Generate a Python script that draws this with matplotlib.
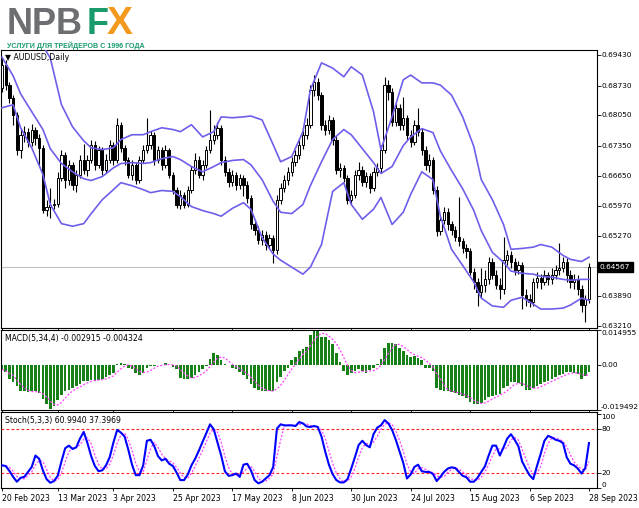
import numpy as np
import pandas as pd
import matplotlib
matplotlib.use("Agg")
import matplotlib.pyplot as plt

plt.rcParams['font.family'] = ['DejaVu Sans']

# AUDUSD daily, values
dates = ["20 Feb 2023", "13 Mar 2023", "3 Apr 2023", "25 Apr 2023", "17 May 2023",
         "8 Jun 2023", "30 Jun 2023", "24 Jul 2023", "15 Aug 2023", "6 Sep 2023", "28 Sep 2023"]
date_pos = [0, 15, 30, 46, 62, 78, 94, 110, 126, 142, 158]

opens = [
    0.6867, 0.6920, 0.6874, 0.6844, 0.6805,
    0.6725, 0.6760, 0.6767, 0.6744, 0.6771, 0.6753, 0.6730, 0.6588,
    0.6595, 0.6599, 0.6602, 0.6661, 0.6714, 0.6657, 0.6691, 0.6645, 0.6668,
    0.6702, 0.6680, 0.6702, 0.6737, 0.6691, 0.6725, 0.6680, 0.6702, 0.6737,
    0.6702, 0.6783, 0.6730, 0.6702, 0.6668, 0.6691, 0.6657, 0.6702,
    0.6725, 0.6737, 0.6760, 0.6702, 0.6725, 0.6691, 0.6725, 0.6668, 0.6634,
    0.6599, 0.6622, 0.6599, 0.6634, 0.6680, 0.6702, 0.6668, 0.6691, 0.6725,
    0.6748, 0.6760, 0.6776, 0.6702, 0.6675, 0.6652, 0.6668, 0.6645,
    0.6661, 0.6645, 0.6615, 0.6554, 0.6542, 0.6519, 0.6531, 0.6508, 0.6524,
    0.6496, 0.6611, 0.6638, 0.6657, 0.6675, 0.6698, 0.6714, 0.6737, 0.6760,
    0.6783, 0.6863, 0.6881, 0.6851, 0.6783, 0.6771, 0.6794, 0.6748,
    0.6680, 0.6684, 0.6661, 0.6611, 0.6622, 0.6668, 0.6680, 0.6652, 0.6666,
    0.6638, 0.6675, 0.6684, 0.6725, 0.6874, 0.6858, 0.6789, 0.6822, 0.6783,
    0.6799, 0.6760, 0.6744, 0.6783, 0.6767, 0.6725, 0.6691, 0.6702,
    0.6634, 0.6538, 0.6565, 0.6583, 0.6554, 0.6542, 0.6526, 0.6515, 0.6501,
    0.6492, 0.6446, 0.6423, 0.6400, 0.6416, 0.6428, 0.6469, 0.6439, 0.6416,
    0.6405, 0.6473, 0.6485, 0.6469, 0.6450, 0.6460, 0.6393, 0.6382,
    0.6377, 0.6421, 0.6432, 0.6423, 0.6437, 0.6428, 0.6439, 0.6450, 0.6455,
    0.6469, 0.6439, 0.6423, 0.6428, 0.6405, 0.6370, 0.6382]

closes = [
    0.6920, 0.6874, 0.6844, 0.6805, 0.6725,
    0.6760, 0.6767, 0.6744, 0.6771, 0.6753, 0.6730, 0.6588, 0.6595,
    0.6599, 0.6602, 0.6661, 0.6714, 0.6657, 0.6691, 0.6645, 0.6668, 0.6702,
    0.6680, 0.6702, 0.6737, 0.6691, 0.6725, 0.6680, 0.6702, 0.6737, 0.6702,
    0.6783, 0.6730, 0.6702, 0.6668, 0.6691, 0.6657, 0.6702, 0.6725,
    0.6737, 0.6760, 0.6702, 0.6725, 0.6691, 0.6725, 0.6668, 0.6634, 0.6599,
    0.6622, 0.6599, 0.6634, 0.6680, 0.6702, 0.6668, 0.6691, 0.6725, 0.6748,
    0.6760, 0.6776, 0.6702, 0.6675, 0.6652, 0.6668, 0.6645, 0.6661,
    0.6645, 0.6615, 0.6554, 0.6542, 0.6519, 0.6531, 0.6508, 0.6524, 0.6496,
    0.6611, 0.6638, 0.6657, 0.6675, 0.6698, 0.6714, 0.6737, 0.6760, 0.6783,
    0.6863, 0.6881, 0.6851, 0.6783, 0.6771, 0.6794, 0.6748, 0.6680,
    0.6684, 0.6661, 0.6611, 0.6622, 0.6668, 0.6680, 0.6652, 0.6666, 0.6638,
    0.6675, 0.6684, 0.6725, 0.6874, 0.6858, 0.6789, 0.6822, 0.6783, 0.6799,
    0.6760, 0.6744, 0.6783, 0.6767, 0.6725, 0.6691, 0.6702, 0.6634,
    0.6538, 0.6565, 0.6583, 0.6554, 0.6542, 0.6526, 0.6515, 0.6501, 0.6492,
    0.6446, 0.6423, 0.6400, 0.6416, 0.6428, 0.6469, 0.6439, 0.6416, 0.6405,
    0.6473, 0.6485, 0.6469, 0.6450, 0.6460, 0.6393, 0.6382, 0.6377,
    0.6421, 0.6432, 0.6423, 0.6437, 0.6428, 0.6439, 0.6450, 0.6455, 0.6469,
    0.6439, 0.6423, 0.6428, 0.6405, 0.6370, 0.6382, 0.64567]

highs = [
    0.6938, 0.6931, 0.6881, 0.6851, 0.6812,
    0.6776, 0.6780, 0.6776, 0.6785, 0.6778, 0.6762, 0.6737, 0.6611,
    0.6638, 0.6613, 0.6675, 0.6725, 0.6721, 0.6702, 0.6698, 0.6680, 0.6714,
    0.6739, 0.6714, 0.6748, 0.6746, 0.6735, 0.6732, 0.6716, 0.6748, 0.6744,
    0.6799, 0.6789, 0.6737, 0.6709, 0.6702, 0.6698, 0.6712, 0.6737,
    0.6799, 0.6769, 0.6767, 0.6735, 0.6732, 0.6737, 0.6730, 0.6675, 0.6641,
    0.6634, 0.6629, 0.6643, 0.6689, 0.6718, 0.6712, 0.6702, 0.6735, 0.6817,
    0.6783, 0.6789, 0.6783, 0.6712, 0.6684, 0.6680, 0.6675, 0.6670,
    0.6668, 0.6654, 0.6622, 0.6565, 0.6551, 0.6542, 0.6538, 0.6533, 0.6531,
    0.6622, 0.6650, 0.6668, 0.6686, 0.6709, 0.6725, 0.6748, 0.6771, 0.6799,
    0.6874, 0.6897, 0.6890, 0.6858, 0.6794, 0.6805, 0.6801, 0.6757,
    0.6696, 0.6691, 0.6668, 0.6634, 0.6680, 0.6698, 0.6689, 0.6675, 0.6673,
    0.6686, 0.6696, 0.6737, 0.6892, 0.6886, 0.6867, 0.6831, 0.6831, 0.6847,
    0.6805, 0.6771, 0.6794, 0.6822, 0.6776, 0.6735, 0.6716, 0.6709,
    0.6643, 0.6574, 0.6595, 0.6592, 0.6563, 0.6551, 0.6618, 0.6524, 0.6510,
    0.6501, 0.6455, 0.6432, 0.6455, 0.6450, 0.6480, 0.6478, 0.6450, 0.6432,
    0.6526, 0.6496, 0.6494, 0.6478, 0.6471, 0.6469, 0.6405, 0.6395,
    0.6432, 0.6446, 0.6441, 0.6450, 0.6446, 0.6455, 0.6462, 0.6512, 0.6480,
    0.6478, 0.6450, 0.6441, 0.6437, 0.6414, 0.6393, 0.6466]

lows = [
    0.6858, 0.6863, 0.6833, 0.6783, 0.6714,
    0.6707, 0.6744, 0.6732, 0.6735, 0.6737, 0.6691, 0.6581, 0.6574,
    0.6570, 0.6590, 0.6595, 0.6654, 0.6638, 0.6645, 0.6634, 0.6629, 0.6661,
    0.6670, 0.6666, 0.6696, 0.6680, 0.6684, 0.6668, 0.6673, 0.6696, 0.6691,
    0.6696, 0.6721, 0.6691, 0.6661, 0.6657, 0.6647, 0.6650, 0.6696,
    0.6718, 0.6728, 0.6691, 0.6696, 0.6680, 0.6684, 0.6661, 0.6625, 0.6592,
    0.6590, 0.6592, 0.6595, 0.6627, 0.6670, 0.6661, 0.6657, 0.6684, 0.6718,
    0.6739, 0.6750, 0.6691, 0.6666, 0.6641, 0.6643, 0.6634, 0.6636,
    0.6620, 0.6604, 0.6544, 0.6531, 0.6510, 0.6508, 0.6496, 0.6499, 0.6466,
    0.6487, 0.6602, 0.6629, 0.6645, 0.6666, 0.6689, 0.6705, 0.6728, 0.6750,
    0.6776, 0.6849, 0.6840, 0.6771, 0.6760, 0.6762, 0.6737, 0.6670,
    0.6664, 0.6652, 0.6602, 0.6599, 0.6615, 0.6657, 0.6643, 0.6641, 0.6627,
    0.6631, 0.6666, 0.6675, 0.6718, 0.6840, 0.6780, 0.6780, 0.6771, 0.6771,
    0.6748, 0.6732, 0.6737, 0.6757, 0.6714, 0.6680, 0.6675, 0.6625,
    0.6528, 0.6531, 0.6556, 0.6542, 0.6531, 0.6515, 0.6505, 0.6489, 0.6478,
    0.6437, 0.6405, 0.6366, 0.6386, 0.6400, 0.6418, 0.6428, 0.6405, 0.6382,
    0.6395, 0.6462, 0.6455, 0.6439, 0.6441, 0.6359, 0.6368, 0.6364,
    0.6368, 0.6409, 0.6405, 0.6414, 0.6416, 0.6418, 0.6428, 0.6437, 0.6446,
    0.6423, 0.6409, 0.6405, 0.6391, 0.6352, 0.6331, 0.6373]

# Bollinger bands, read at every few bars
bb_pos = [0, 3, 5, 8, 11, 13, 16, 19, 22, 24, 27, 30, 32, 35, 38, 40, 43, 46, 48, 51,
          54, 57, 59, 62, 65, 67, 70, 73, 75, 78, 81, 83, 86, 89, 92, 94, 97, 100, 102, 105,
          108, 110, 113, 116, 118, 121, 124, 127, 129, 132, 135, 137, 140, 143, 145, 148, 151, 153, 156, 158]
bb_upper = [0.7000, 0.6989, 0.6982, 0.6977, 0.6964, 0.6936, 0.6829, 0.6778, 0.6746, 0.6730,
            0.6726, 0.6730, 0.6749, 0.6760, 0.6760, 0.6767, 0.6776, 0.6772, 0.6767, 0.6783,
            0.6755, 0.6767, 0.6801, 0.6799, 0.6801, 0.6803, 0.6794, 0.6737, 0.6698, 0.6710,
            0.6767, 0.6863, 0.6925, 0.6913, 0.6893, 0.6916, 0.6897, 0.6813, 0.6726, 0.6801,
            0.6886, 0.6897, 0.6879, 0.6879, 0.6874, 0.6851, 0.6801, 0.6733, 0.6657, 0.6611,
            0.6554, 0.6497, 0.6499, 0.6502, 0.6508, 0.6502, 0.6483, 0.6474, 0.6469, 0.6479]
bb_mid = [0.6938, 0.6895, 0.6854, 0.6813, 0.6772, 0.6728, 0.6694, 0.6675, 0.6659, 0.6655,
          0.6664, 0.6684, 0.6694, 0.6696, 0.6694, 0.6696, 0.6705, 0.6710, 0.6703, 0.6687,
          0.6675, 0.6687, 0.6696, 0.6701, 0.6703, 0.6691, 0.6657, 0.6607, 0.6582, 0.6579,
          0.6600, 0.6643, 0.6698, 0.6749, 0.6772, 0.6760, 0.6728, 0.6696, 0.6671, 0.6687,
          0.6735, 0.6755, 0.6774, 0.6765, 0.6723, 0.6678, 0.6636, 0.6586, 0.6540, 0.6490,
          0.6467, 0.6447, 0.6442, 0.6440, 0.6435, 0.6433, 0.6428, 0.6426, 0.6428, 0.6428]
bb_lower = [0.6822, 0.6829, 0.6776, 0.6730, 0.6669, 0.6600, 0.6556, 0.6550, 0.6556, 0.6579,
            0.6611, 0.6634, 0.6650, 0.6643, 0.6634, 0.6627, 0.6632, 0.6630, 0.6618, 0.6595,
            0.6586, 0.6579, 0.6573, 0.6591, 0.6604, 0.6589, 0.6524, 0.6486, 0.6472, 0.6456,
            0.6440, 0.6456, 0.6508, 0.6630, 0.6650, 0.6600, 0.6566, 0.6589, 0.6616, 0.6554,
            0.6582, 0.6623, 0.6675, 0.6657, 0.6573, 0.6497, 0.6460, 0.6422, 0.6385, 0.6367,
            0.6364, 0.6380, 0.6387, 0.6371, 0.6360, 0.6360, 0.6362, 0.6369, 0.6385, 0.6380]

macd_main = [
    -0.0020, -0.0033, -0.0060, -0.0075, -0.0091,
    -0.0115, -0.0115, -0.0118, -0.0115, -0.0115, -0.0123, -0.0146, -0.0170,
    -0.0190, -0.0178, -0.0154, -0.0130, -0.0115, -0.0107, -0.0099, -0.0091, -0.0083,
    -0.0071, -0.0068, -0.0064, -0.0068, -0.0064, -0.0060, -0.0052, -0.0044, -0.0036,
    0.0003, 0.0006, 0.0003, -0.0013, -0.0020, -0.0036, -0.0044, -0.0036,
    -0.0013, -0.0005, -0.0005, -0.0002, -0.0001, 0.0008, -0.0001, -0.0008, -0.0020,
    -0.0055, -0.0060, -0.0060, -0.0055, -0.0044, -0.0033, -0.0020, -0.0005, 0.0024,
    0.0050, 0.0042, 0.0019, 0.0003, -0.0001, -0.0013, -0.0020, -0.0033,
    -0.0044, -0.0060, -0.0083, -0.0099, -0.0107, -0.0112, -0.0115, -0.0115, -0.0112,
    -0.0075, -0.0052, -0.0028, -0.0013, 0.0019, 0.0035, 0.0058, 0.0066, 0.0077,
    0.0129, 0.0145, 0.0148, 0.0121, 0.0121, 0.0105, 0.0090, 0.0050,
    0.0011, -0.0028, -0.0044, -0.0036, -0.0028, -0.0020, -0.0028, -0.0036, -0.0024,
    -0.0013, 0.0003, 0.0024, 0.0074, 0.0093, 0.0093, 0.0090, 0.0074, 0.0058,
    0.0042, 0.0035, 0.0039, 0.0030, 0.0019, -0.0013, -0.0013, -0.0028,
    -0.0099, -0.0107, -0.0112, -0.0115, -0.0118, -0.0123, -0.0130, -0.0134, -0.0143,
    -0.0162, -0.0170, -0.0170, -0.0165, -0.0154, -0.0138, -0.0134, -0.0130, -0.0127,
    -0.0099, -0.0091, -0.0075, -0.0075, -0.0080, -0.0091, -0.0107, -0.0107,
    -0.0099, -0.0091, -0.0083, -0.0075, -0.0068, -0.0060, -0.0052, -0.0044, -0.0039,
    -0.0033, -0.0033, -0.0036, -0.0039, -0.0060, -0.0049, -0.002915]

stoch_k = [
    30.7, 29.8, 23.1, 15.1, 8.5,
    13.8, 15.1, 21.8, 28.5, 44, 39.6, 24, 12,
    7.1, 9.4, 16.5, 36, 53.8, 57.4, 52.9, 55.1, 67.1,
    76, 60.9, 43.1, 29.8, 22.7, 24, 30.7, 41.8, 61.8,
    78.7, 75.1, 69.8, 52, 31.6, 17.4, 17.4, 30.7,
    64, 65.4, 56.5, 43.1, 37.4, 39.6, 32.9, 29.8, 20.9,
    10.7, 10.7, 18.3, 30.7, 39.6, 50.7, 62.7, 74.3, 86.3,
    79.6, 61.8, 44, 22.7, 16.5, 17.4, 19.6, 15.1,
    31.6, 32.9, 24, 10.7, 6.3, 8.5, 12.9, 17.4, 28.5,
    80.5, 86.3, 84.9, 84.9, 84.9, 84, 89.4, 87.5, 83.4,
    82.7, 84, 82.7, 69.8, 49.4, 31.6, 18.7, 10.7,
    7.6, 7.6, 12, 26.3, 41.8, 58.3, 64, 58.3, 55.1,
    72.9, 81.8, 84.9, 92, 87.6, 78.7, 65.4, 49.8, 34.3,
    12.9, 18.3, 28.5, 31.6, 22.7, 21.8, 21.8, 19.1,
    9.4, 15.1, 21.8, 26.3, 28, 27.1, 21.8, 16.5, 14.7,
    8.5, 8.5, 13.8, 21.8, 29.4, 44, 57.4, 57.4, 44,
    55.1, 67.1, 72.9, 65.4, 56.5, 36, 26.3, 17.4,
    12, 29.8, 46.3, 64, 70.7, 68.5, 65.4, 64, 60.9,
    41.8, 32.9, 30.7, 26.3, 19.6, 27.1, 60.99]

price_ticks = [0.69430, 0.68730, 0.68050, 0.67350, 0.66650, 0.65970, 0.65270, 0.63890, 0.63210]
last_price = 0.64567
macd_top, macd_bottom = 0.014955, -0.019492

W, H = 639, 508
fig = plt.figure(figsize=(W / 100, H / 100), dpi=100)
fig.patch.set_facecolor('white')


def panel(top, bottom):
    return fig.add_axes([1 / W, 1 - bottom / H, 596 / W, (bottom - top) / H])


ax_p = panel(50, 328)
ax_m = panel(330, 410)
ax_s = panel(412, 488)

x = np.arange(len(closes))
o, c = np.array(opens), np.array(closes)
hi, lo = np.array(highs), np.array(lows)
up = c >= o

# price panel
ax_p.axhline(last_price, color='#c0c0c0', lw=0.8, zorder=1)
ax_p.vlines(x, lo, hi, color='black', lw=0.8, zorder=2)
ax_p.bar(x[up], (c - o)[up], bottom=o[up], width=0.62, color='white',
         edgecolor='black', linewidth=0.7, zorder=3)
ax_p.bar(x[~up], (o - c)[~up], bottom=c[~up], width=0.62, color='black',
         edgecolor='black', linewidth=0.7, zorder=3)
for band in (bb_upper, bb_mid, bb_lower):
    ax_p.plot(bb_pos, band, color='#6e5feb', lw=1.2, zorder=4)
ax_p.set_ylim(0.63164, 0.69545)

# MACD panel
macd = pd.Series(macd_main)
signal = macd.rolling(4, min_periods=1).mean()
ax_m.bar(x, macd, width=0.7, color='#178017', zorder=2)
ax_m.plot(x, signal, color='#ff40ff', lw=0.9, ls=(0, (1.6, 1.4)), zorder=3)
ax_m.set_ylim(macd_bottom, macd_top)

# Stochastic panel
k = pd.Series(stoch_k)
d = k.rolling(3, min_periods=1).mean()
for lvl in (80, 20):
    ax_s.axhline(lvl, color='#ff2020', lw=0.8, ls=(0, (2.5, 2)), zorder=1)
ax_s.plot(x, d, color='#ff40ff', lw=0.9, ls=(0, (1.6, 1.4)), zorder=2)
ax_s.plot(x, k, color='#0000ff', lw=1.5, zorder=3)
ax_s.set_ylim(0, 103)

for a in (ax_p, ax_m, ax_s):
    a.set_xlim(-0.27, 160.16)
    a.set_xticks(date_pos)
    a.tick_params(axis='x', direction='out', length=2.5, width=0.6, labelbottom=False)
    a.tick_params(axis='y', left=False, right=True, labelleft=False, labelright=False,
                  direction='out', length=3, width=0.6)
    for s in a.spines.values():
        s.set_linewidth(0.8)
        s.set_color('black')

ax_s.tick_params(axis='x', labelbottom=True, labelsize=5.6, pad=2)
ax_s.set_xticklabels(dates, ha='left')

LBL = 5.3


def right_label(a, y, s, va='center', **kw):
    a.text(1 + 4 / 596, y, s, transform=a.get_yaxis_transform(), ha='left', va=va,
           fontsize=LBL, clip_on=False, **kw)


ax_p.set_yticks(price_ticks + [last_price])
for p in price_ticks:
    right_label(ax_p, p, f"{p:.5f}")
ax_p.text(1 + 3 / 596, last_price, f"{last_price:.5f}", transform=ax_p.get_yaxis_transform(),
          ha='left', va='center', fontsize=LBL, color='white', clip_on=False,
          bbox=dict(boxstyle='square,pad=0.3', fc='black', ec='black'))

ax_m.set_yticks([macd_top, 0, macd_bottom])
right_label(ax_m, macd_top, "0.014955", va='top')
right_label(ax_m, 0, "0.00")
right_label(ax_m, macd_bottom, "-0.019492", va='bottom')

ax_s.set_yticks([100, 80, 20, 0])
right_label(ax_s, 100, "100", va='top')
right_label(ax_s, 80, "80")
right_label(ax_s, 20, "20")
right_label(ax_s, 0, "0", va='bottom')

# indicator captions
fig.text(5 / W, 1 - 58 / H, "\u25bc AUDUSD,Daily", fontsize=5.6, va='center')
fig.text(5 / W, 1 - 338 / H, "MACD(5,34,4) -0.002915 -0.004324", fontsize=5.6, va='center')
fig.text(5 / W, 1 - 421 / H, "Stoch(5,3,3) 60.9940 37.3969", fontsize=5.6, va='center')

# logo
logo_font = ['Liberation Sans', 'DejaVu Sans']
fig.text(7 / W, 1 - 34 / H, "NPB", fontsize=26, fontweight='bold', family=logo_font,
         color='#6d6e71', va='baseline')
fig.text(87 / W, 1 - 34 / H, "F", fontsize=26, fontweight='bold', family=logo_font,
         color='#1a9b6c', va='baseline')
fig.text(107 / W, 1 - 34 / H, "X", fontsize=28, fontweight='bold', family=logo_font,
         color='#f39a1e', va='baseline')
fig.text(7 / W, 1 - 46 / H, "УСЛУГИ ДЛЯ ТРЕЙДЕРОВ С 1996 ГОДА", fontsize=5.1,
         fontweight='bold', family=logo_font, color='#1a9b6c', va='center')

fig.savefig('out.png', dpi=100)
